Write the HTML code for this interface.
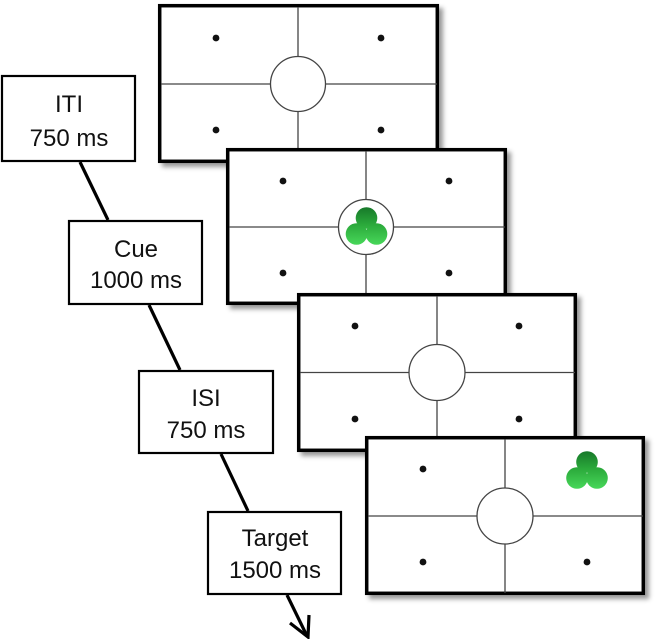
<!DOCTYPE html>
<html>
<head>
<meta charset="utf-8">
<style>
html,body{margin:0;padding:0;background:#fff;}
svg{display:block;}
text{font-family:"Liberation Sans",sans-serif;font-size:24px;fill:#111;}
</style>
</head>
<body>
<svg width="660" height="639" viewBox="0 0 660 639" xmlns="http://www.w3.org/2000/svg">
<defs>
  <filter id="sh" x="-10%" y="-10%" width="130%" height="130%">
    <feDropShadow dx="4" dy="4" stdDeviation="2.5" flood-color="#000" flood-opacity="0.4"/>
  </filter>
  <linearGradient id="g1" gradientUnits="userSpaceOnUse" x1="0" y1="207" x2="0" y2="245">
    <stop offset="0" stop-color="#17782a"/>
    <stop offset="0.45" stop-color="#2aa83a"/>
    <stop offset="1" stop-color="#48d85a"/>
  </linearGradient>
  <linearGradient id="g2" gradientUnits="userSpaceOnUse" x1="0" y1="451" x2="0" y2="489">
    <stop offset="0" stop-color="#17782a"/>
    <stop offset="0.45" stop-color="#2aa83a"/>
    <stop offset="1" stop-color="#48d85a"/>
  </linearGradient>
</defs>

<!-- connectors -->
<g stroke="#000" stroke-width="3.2" fill="none" stroke-linecap="butt">
  <line x1="80" y1="162" x2="108" y2="220"/>
  <line x1="149" y1="305" x2="180" y2="370"/>
  <line x1="221" y1="454" x2="248" y2="511"/>
  <line x1="287" y1="595" x2="307" y2="636"/>
  <polyline points="290,623 308,637 309,615" stroke-linejoin="miter"/>
</g>

<!-- text boxes -->
<g fill="#fff" stroke="#000" stroke-width="2.2">
  <rect x="2" y="76" width="133" height="85"/>
  <rect x="69" y="221" width="133" height="83"/>
  <rect x="139" y="371" width="134" height="82"/>
  <rect x="208" y="512" width="133" height="82"/>
</g>
<g text-anchor="middle">
  <text x="69" y="112">ITI</text>
  <text x="69" y="146">750 ms</text>
  <text x="136" y="257">Cue</text>
  <text x="136" y="288">1000 ms</text>
  <text x="206" y="406">ISI</text>
  <text x="206" y="438">750 ms</text>
  <text x="275" y="546">Target</text>
  <text x="275" y="578">1500 ms</text>
</g>

<!-- Screen 1 -->
<g filter="url(#sh)">
  <rect x="159.7" y="5.7" width="277.6" height="155.6" fill="#fff" stroke="#000" stroke-width="3.5"/>
</g>
<g stroke="#444" stroke-width="1.3" fill="none">
  <line x1="161" y1="84" x2="270.5" y2="84"/><line x1="325.5" y1="84" x2="437" y2="84"/>
  <line x1="298" y1="7" x2="298" y2="56.5"/><line x1="298" y1="111.5" x2="298" y2="161"/>
  <circle cx="298" cy="84" r="27.5" fill="#fff"/>
</g>
<g fill="#111">
  <circle cx="216" cy="38" r="3.4"/><circle cx="381" cy="38" r="3.4"/>
  <circle cx="216" cy="130" r="3.4"/><circle cx="381" cy="130" r="3.4"/>
</g>

<!-- Screen 2 -->
<g filter="url(#sh)">
  <rect x="227.7" y="149.7" width="277.6" height="153.6" fill="#fff" stroke="#000" stroke-width="3.5"/>
</g>
<g stroke="#444" stroke-width="1.3" fill="none">
  <line x1="229" y1="227" x2="338.5" y2="227"/><line x1="393.5" y1="227" x2="505" y2="227"/>
  <line x1="366" y1="151" x2="366" y2="199.5"/><line x1="366" y1="254.5" x2="366" y2="303"/>
  <circle cx="366" cy="227" r="27.5" fill="#fff"/>
</g>
<g fill="#111">
  <circle cx="283" cy="181" r="3.4"/><circle cx="449" cy="181" r="3.4"/>
  <circle cx="283" cy="273" r="3.4"/><circle cx="449" cy="273" r="3.4"/>
</g>
<g fill="url(#g1)">
  <circle cx="366.5" cy="218" r="10.8"/>
  <circle cx="356.5" cy="234" r="10.8"/>
  <circle cx="376.5" cy="234" r="10.8"/>
</g>

<!-- Screen 3 -->
<g filter="url(#sh)">
  <rect x="298.7" y="294.7" width="276.6" height="155.6" fill="#fff" stroke="#000" stroke-width="3.5"/>
</g>
<g stroke="#444" stroke-width="1.3" fill="none">
  <line x1="300" y1="372.5" x2="409" y2="372.5"/><line x1="465" y1="372.5" x2="575" y2="372.5"/>
  <line x1="437" y1="296" x2="437" y2="344.5"/><line x1="437" y1="400.5" x2="437" y2="450"/>
  <circle cx="437" cy="372.5" r="28" fill="#fff"/>
</g>
<g fill="#111">
  <circle cx="355" cy="326" r="3.4"/><circle cx="519" cy="326" r="3.4"/>
  <circle cx="355" cy="419" r="3.4"/><circle cx="519" cy="419" r="3.4"/>
</g>

<!-- Screen 4 -->
<g filter="url(#sh)">
  <rect x="366.7" y="437.7" width="276.6" height="155.6" fill="#fff" stroke="#000" stroke-width="3.5"/>
</g>
<g stroke="#444" stroke-width="1.3" fill="none">
  <line x1="368" y1="516" x2="477" y2="516"/><line x1="533" y1="516" x2="643" y2="516"/>
  <line x1="505" y1="439" x2="505" y2="488"/><line x1="505" y1="544" x2="505" y2="593"/>
  <circle cx="505" cy="516" r="28" fill="#fff"/>
</g>
<g fill="#111">
  <circle cx="423" cy="469" r="3.4"/>
  <circle cx="423" cy="562" r="3.4"/><circle cx="587" cy="562" r="3.4"/>
</g>
<g fill="url(#g2)">
  <circle cx="587" cy="462" r="10.8"/>
  <circle cx="577" cy="478" r="10.8"/>
  <circle cx="597" cy="478" r="10.8"/>
</g>
</svg>
</body>
</html>
